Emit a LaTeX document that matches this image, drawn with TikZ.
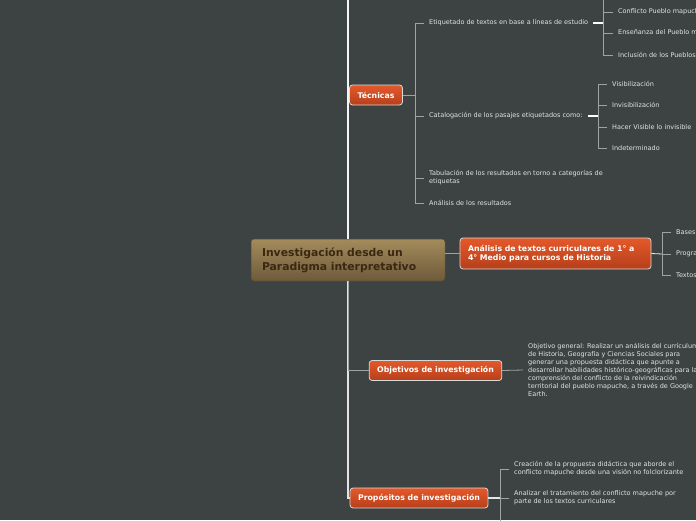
\documentclass[tikz,border=0pt]{standalone}
\usepackage{fontspec}
\setmainfont{DejaVu Sans}
\usetikzlibrary{positioning}
\definecolor{MapBg}{HTML}{3D4343}
\definecolor{LeafText}{HTML}{E2E4E4}
\definecolor{BranchGrey}{HTML}{9EA3A3}
\definecolor{TopicTop}{HTML}{E4592A}
\definecolor{TopicBottom}{HTML}{B63F1B}
\definecolor{TopicEdge}{HTML}{D9D9D9}
\definecolor{RootTop}{HTML}{A48B5B}
\definecolor{RootBottom}{HTML}{6D5A3A}
\definecolor{RootText}{HTML}{3A2812}

\begin{document}
\begin{tikzpicture}[
    x=1pt, y=-1pt,
    leaf/.style={anchor=west, inner xsep=5pt, inner ysep=1pt, text=LeafText,
      font=\fontsize{6.5}{8}\selectfont, align=left},
    topic/.style={draw=TopicEdge, line width=0.8pt, rounded corners=3pt,
      top color=TopicTop, bottom color=TopicBottom, text=white,
      font=\fontsize{7.8}{9.5}\selectfont\bfseries, inner xsep=8pt, minimum height=20pt},
    branch/.style={draw=BranchGrey, line width=0.8pt},
    hot/.style={draw=white, line width=1.3pt},
    trunk/.style={draw=white!92!gray, line width=1.6pt}
  ]
  \fill[MapBg] (0,0) rectangle (696,520);
  \useasboundingbox (0,0) rectangle (696,520);

  % central topic
  \node[
    draw=RootBottom!80!black,
    line width=0.5pt,
    rounded corners=3pt,
    top color=RootTop,
    bottom color=RootBottom,
    text=RootText,
    font=\fontsize{10.8}{14}\selectfont\bfseries,
    text width=172pt,
    inner xsep=11pt,
    minimum height=42pt,
    align=left
  ] (central) at (348,260) {Investigación desde un\\Paradigma interpretativo};

  % main topics
  \node[topic] (tec) at (376,95) {Técnicas};
  \node[topic, align=left, text width=175pt, minimum height=31pt] (analisis) at (555.5,253.5)
    {Análisis de textos curriculares de 1° a\\4° Medio para cursos de Historia};
  \node[topic] (obj) at (435.5,370.5) {Objetivos de investigación};
  \node[topic] (prop) at (419,498) {Propósitos de investigación};

  % joints
  \coordinate (trunkTop) at (348,-5);
  \coordinate (tecJ) at (415,95);
  \coordinate (etiqJ) at (603,23);
  \coordinate (etiqUp) at (603,-5);
  \coordinate (catJ) at (598,116);
  \coordinate (anaJ) at (662,254);
  \coordinate (propJ) at (500,498);
  \coordinate (propDown) at (500,525);

  % Técnicas
  \node[leaf] (etiq) at (424,23) {Etiquetado de textos en base a líneas de estudio};
  \node[leaf] (cat) at (424,116) {Catalogación de los pasajes etiquetados como:};
  \node[leaf] (tab) at (424,178) {Tabulación de los resultados en torno a categorías de\\etiquetas};
  \node[leaf] (anres) at (424,203) {Análisis de los resultados};

  \node[leaf] (conf) at (613,12) {Conflicto Pueblo mapuche};
  \node[leaf] (ense) at (613,33) {Enseñanza del Pueblo mapuche};
  \node[leaf] (incl) at (613,55) {Inclusión de los Pueblos};

  \node[leaf] (visi) at (607,84) {Visibilización};
  \node[leaf] (invi) at (607,105) {Invisibilización};
  \node[leaf] (hacer) at (607,127) {Hacer Visible lo invisible};
  \node[leaf] (inde) at (607,148) {Indeterminado};

  % Análisis
  \node[leaf] (bases) at (671,232) {Bases};
  \node[leaf] (progr) at (671,254) {Programas};
  \node[leaf] (textos) at (671,275) {Textos};

  % Objetivos
  \node[leaf] (general) at (523,370) {Objetivo general: Realizar un análisis del currículum\\de Historia, Geografía y Ciencias Sociales para\\generar una propuesta didáctica que apunte a\\desarrollar habilidades histórico-geográficas para la\\comprensión del conflicto de la reivindicación\\territorial del pueblo mapuche, a través de Google\\Earth.};

  % Propósitos
  \node[leaf] (crea) at (509,469) {Creación de la propuesta didáctica que aborde el\\conflicto mapuche desde una visión no folclorizante};
  \node[leaf] (anal) at (509,498) {Analizar el tratamiento del conflicto mapuche por\\parte de los textos curriculares};

  % trunk
  \draw[trunk] (central.north) -- (trunkTop);
  \draw[trunk, draw=white!78!gray] (central.south) |- (prop.west);
  \draw[branch] (central.south) |- (obj.west);
  \draw[branch] (analisis.west -| central.east) -- (analisis.west);

  % connectors
  \draw[branch] (tec.east) -- (tecJ);
  \foreach \leafname in {etiq,cat,tab,anres}
    \draw[branch] (tecJ) |- (\leafname.west);
  \draw[hot] (etiq.east) -- (etiqJ);
  \draw[branch] (etiqJ) -- (etiqUp);
  \foreach \leafname in {conf,ense,incl}
    \draw[branch] (etiqJ) |- (\leafname.west);
  \draw[hot] (cat.east) -- (catJ);
  \foreach \leafname in {visi,invi,hacer,inde}
    \draw[branch] (catJ) |- (\leafname.west);
  \draw[branch, draw=white!85!gray] (analisis.east) -- (anaJ);
  \foreach \leafname in {bases,progr,textos}
    \draw[branch] (anaJ) |- (\leafname.west);
  \draw[branch] (obj.east) -- (general.west);
  \draw[hot, draw=white!80!gray] (prop.east) -- (propJ);
  \draw[branch] (propJ) -- (propDown);
  \foreach \leafname in {crea,anal}
    \draw[branch] (propJ) |- (\leafname.west);
\end{tikzpicture}
\end{document}
